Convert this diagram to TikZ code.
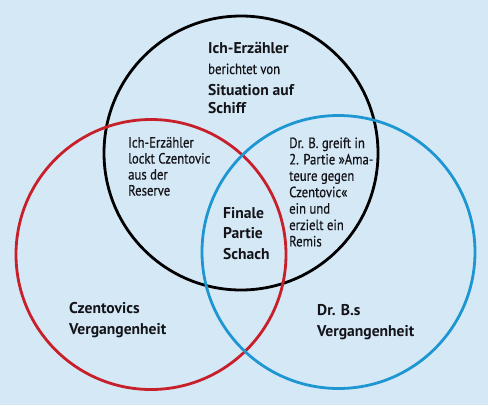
\documentclass[tikz,border=0pt]{standalone}
\usepackage{fontspec}
\setmainfont{PT Sans}
\newfontfamily\narrowfont{PT Sans}[FakeStretch=0.86,FakeBold=0.5]
\definecolor{bg}{RGB}{213,232,246}
\definecolor{vred}{RGB}{200,32,42}
\definecolor{vblue}{RGB}{30,150,210}
\definecolor{txt}{RGB}{20,20,25}
\begin{document}
\begin{tikzpicture}[x=1pt,y=-1pt,
  ring/.style={line width=2.8pt},
  hd/.style={anchor=base west,inner sep=0pt,text=txt,font=\fontsize{15.6}{17}\selectfont\bfseries},
  tx/.style={anchor=base west,inner sep=0pt,text=txt,font=\narrowfont\fontsize{14.8}{16}\selectfont}]
\fill[bg] (0,0) rectangle (488,405);
\useasboundingbox (0,0) rectangle (488,405);
\draw[ring,black] (241,153) circle[radius=137];
\draw[ring,vred] (151,254.5) circle[radius=135];
\draw[ring,vblue] (338.5,252) circle[radius=136.5];
% top circle
\node[hd] (t1) at (208,53) {Ich-Erzähler};
\node[tx] (t2) at (208,74) {berichtet von};
\node[hd] (t3) at (208,95) {Situation auf};
\node[hd] (t4) at (208,113) {Schiff};
% black-red
\node[tx] (l1) at (128,147.5) {Ich-Erzähler};
\node[tx] (l2) at (128,163.5) {lockt Czentovic};
\node[tx] (l3) at (128,179.5) {aus der};
\node[tx] (l4) at (128,195.5) {Reserve};
% black-blue
\node[tx] (r1) at (289,148) {Dr. B. greift in};
\node[tx] (r2) at (289,164.4) {2. Partie »Ama-};
\node[tx] (r3) at (289,180.8) {teure gegen};
\node[tx] (r4) at (289,197.2) {Czentovic«};
\node[tx] (r5) at (289,213.6) {ein und};
\node[tx] (r6) at (289,230) {erzielt ein};
\node[tx] (r7) at (289,246.4) {Remis};
% centre
\node[hd] (c1) at (223,218) {Finale};
\node[hd] (c2) at (223,238) {Partie};
\node[hd] (c3) at (223,259) {Schach};
% red only
\node[hd] (a1) at (69,313) {Czentovics};
\node[hd] (a2) at (69,334) {Vergangenheit};
% blue only
\node[hd] (b1) at (317,315) {Dr. B.s};
\node[hd] (b2) at (317,336) {Vergangenheit};
\end{tikzpicture}
\end{document}
